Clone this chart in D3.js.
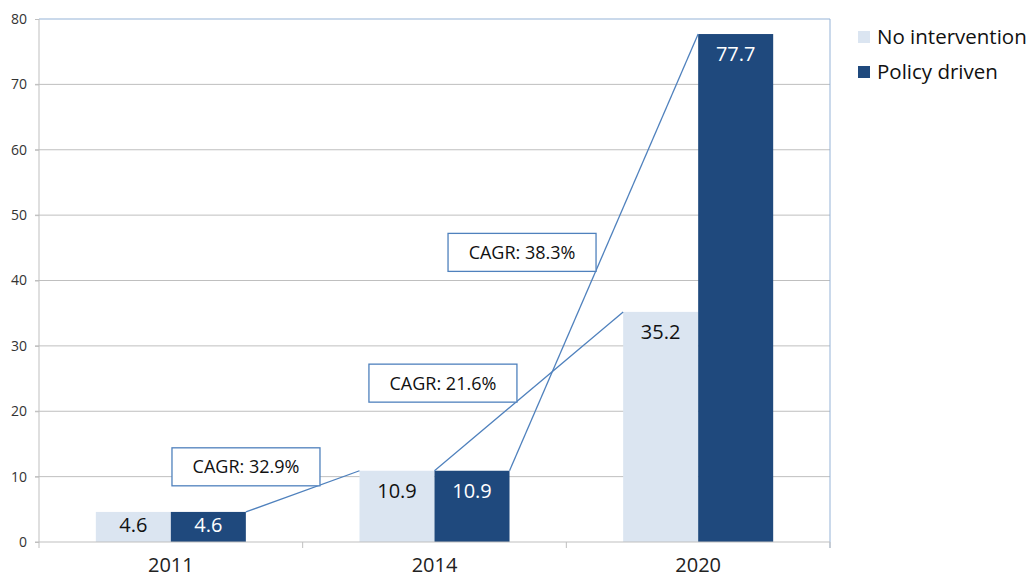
<!DOCTYPE html>
<html>
<head>
<meta charset="utf-8">
<script src="https://cdn.jsdelivr.net/npm/d3@7"></script>
<style>
  body { margin: 0; background: #fff; }
  text { font-family: "Open Sans", sans-serif; }
</style>
</head>
<body>
<div id="chart"></div>
<script>
// data
var years = ["2011", "2014", "2020"];
var seriesNames = ["No intervention", "Policy driven"];
var noIntervention = [4.6, 10.9, 35.2];
var policyDriven = [4.6, 10.9, 77.7];
var yTicks = [0, 10, 20, 30, 40, 50, 60, 70, 80];

// CAGR annotations: from year/series to year/series, label, box centre (category units, value)
var cagrFrom = [0, 1, 1];
var cagrTo = [1, 2, 2];
var cagrFromSeries = [1, 0, 1];
var cagrToSeries = [0, 0, 1];
var cagrText = ["CAGR: 32.9%", "CAGR: 21.6%", "CAGR: 38.3%"];
var cagrBoxX = [0.785, 1.532, 1.832];
var cagrBoxY = [11.5, 24.3, 44.3];

var width = 1032;
var height = 579;
var plotLeft = 39, plotRight = 830, plotTop = 19, plotBottom = 542;

var color = ["#dbe5f1", "#1f497d"];
var labelColor = ["#111", "#fff"];

var svg = d3.select('#chart')
  .append('svg')
  .attr('width', width)
  .attr('height', height);

var y = d3.scaleLinear()
  .domain([0, 80])
  .range([plotBottom, plotTop]);

var x0 = d3.scaleBand()
  .domain(years)
  .range([plotLeft, plotRight])
  .paddingInner(0.431)
  .paddingOuter(0.2155);

var x1 = d3.scaleBand()
  .domain([0, 1])
  .range([0, x0.bandwidth()]);

var xPos = d3.scaleLinear()
  .domain([0, 3])
  .range([plotLeft, plotRight]);

// gridlines
svg.append('g')
  .selectAll('line')
  .data(yTicks.slice(1, -1))
  .enter()
  .append('line')
  .attr('x1', plotLeft - 4)
  .attr('x2', plotRight)
  .attr('y1', function(d) { return y(d); })
  .attr('y2', function(d) { return y(d); })
  .attr('stroke', '#bfbfbf')
  .attr('stroke-width', 1);

// y axis
var yAxis = d3.axisLeft(y)
  .tickValues(yTicks)
  .tickSize(4)
  .tickPadding(8);

var gy = svg.append('g')
  .attr('transform', 'translate(' + plotLeft + ',0)')
  .call(yAxis);
gy.select('.domain').remove();
gy.selectAll('.tick line').attr('stroke', '#bfbfbf');
gy.selectAll('.tick text')
  .attr('fill', '#333')
  .style('font-size', '14px');

// top and right border
svg.append('line')
  .attr('x1', plotLeft).attr('x2', plotRight)
  .attr('y1', plotTop).attr('y2', plotTop)
  .attr('stroke', '#95b3d7');
svg.append('line')
  .attr('x1', plotRight).attr('x2', plotRight)
  .attr('y1', plotTop).attr('y2', plotBottom + 6)
  .attr('stroke', '#95b3d7');

// left axis line
svg.append('line')
  .attr('x1', plotLeft).attr('x2', plotLeft)
  .attr('y1', plotTop).attr('y2', plotBottom + 6)
  .attr('stroke', '#bfbfbf');

// bars
var rows = years.map(function(yr, i) {
  return { year: yr, values: [noIntervention[i], policyDriven[i]] };
});

var groups = svg.append('g')
  .selectAll('g')
  .data(rows)
  .enter()
  .append('g')
  .attr('transform', function(d) { return 'translate(' + x0(d.year) + ',0)'; });

groups.selectAll('rect')
  .data(function(d) { return d.values; })
  .enter()
  .append('rect')
  .attr('x', function(d, i) { return x1(i); })
  .attr('y', function(d) { return y(d); })
  .attr('width', x1.bandwidth())
  .attr('height', function(d) { return y(0) - y(d); })
  .attr('fill', function(d, i) { return color[i]; });

groups.selectAll('text')
  .data(function(d) { return d.values; })
  .enter()
  .append('text')
  .attr('x', function(d, i) { return x1(i) + x1.bandwidth() / 2; })
  .attr('y', function(d) {
    var h = y(0) - y(d);
    return y(d) + Math.min(20, h / 2 - 2);
  })
  .attr('dy', '0.36em')
  .attr('text-anchor', 'middle')
  .attr('fill', function(d, i) { return labelColor[i]; })
  .style('font-size', '20px')
  .text(function(d) { return d.toFixed(1); });

// zero line and x ticks
svg.append('line')
  .attr('x1', plotLeft - 4).attr('x2', plotRight)
  .attr('y1', y(0)).attr('y2', y(0))
  .attr('stroke', '#bfbfbf');

var xAxis = d3.axisBottom(x0).tickSize(0).tickPadding(16);
var gx = svg.append('g')
  .attr('transform', 'translate(0,' + y(0) + ')')
  .call(xAxis);
gx.select('.domain').remove();
gx.selectAll('.tick text')
  .attr('fill', '#222')
  .style('font-size', '20px');

svg.append('g')
  .selectAll('line')
  .data([1, 2, 3])
  .enter()
  .append('line')
  .attr('x1', function(d) { return xPos(d); })
  .attr('x2', function(d) { return xPos(d); })
  .attr('y1', y(0))
  .attr('y2', y(0) + 6)
  .attr('stroke', '#bfbfbf');

// CAGR lines
var seriesVals = [noIntervention, policyDriven];
svg.append('g')
  .selectAll('line')
  .data(cagrText)
  .enter()
  .append('line')
  .attr('x1', function(d, i) { return x0(years[cagrFrom[i]]) + x1(cagrFromSeries[i]) + x1.bandwidth(); })
  .attr('y1', function(d, i) { return y(seriesVals[cagrFromSeries[i]][cagrFrom[i]]); })
  .attr('x2', function(d, i) { return x0(years[cagrTo[i]]) + x1(cagrToSeries[i]); })
  .attr('y2', function(d, i) { return y(seriesVals[cagrToSeries[i]][cagrTo[i]]); })
  .attr('stroke', '#4f81bd')
  .attr('stroke-width', 1.3);

// CAGR boxes
var boxW = 148, boxH = 38;
var boxes = svg.append('g')
  .selectAll('g')
  .data(cagrText)
  .enter()
  .append('g')
  .attr('transform', function(d, i) {
    return 'translate(' + xPos(cagrBoxX[i]) + ',' + y(cagrBoxY[i]) + ')';
  });

boxes.append('rect')
  .attr('x', -boxW / 2)
  .attr('y', -boxH / 2)
  .attr('width', boxW)
  .attr('height', boxH)
  .attr('fill', '#fff')
  .attr('stroke', '#4f81bd')
  .attr('stroke-width', 1.3);

boxes.append('text')
  .attr('text-anchor', 'middle')
  .attr('dy', '0.36em')
  .attr('fill', '#111')
  .style('font-size', '18px')
  .text(function(d) { return d; });

// legend
var legend = svg.append('g')
  .selectAll('g')
  .data(seriesNames)
  .enter()
  .append('g')
  .attr('transform', function(d, i) { return 'translate(858,' + (31 + i * 35) + ')'; });

legend.append('rect')
  .attr('width', 12)
  .attr('height', 12)
  .attr('fill', function(d, i) { return color[i]; });

legend.append('text')
  .attr('x', 19)
  .attr('y', 6)
  .attr('dy', '0.36em')
  .attr('fill', '#111')
  .style('font-size', '20.5px')
  .text(function(d) { return d; });
</script>
</body>
</html>
